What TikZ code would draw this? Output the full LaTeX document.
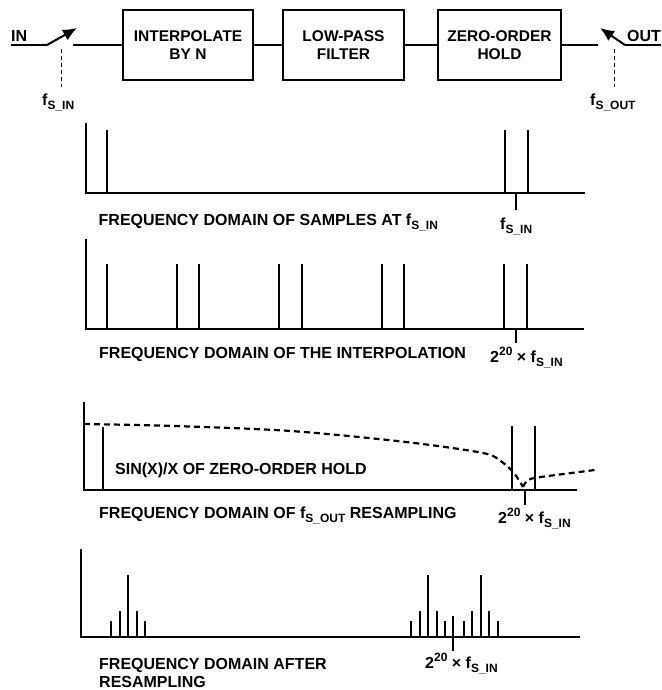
\documentclass[tikz,border=0pt]{standalone}
\usepackage{fontspec}
\setmainfont{Liberation Sans}
\usetikzlibrary{arrows.meta}
\newcommand\fsx[1]{f\raisebox{-4pt}{\fontsize{12}{13}\selectfont #1}}
\newcommand\twoexp{2\raisebox{6.5pt}{\fontsize{12}{13}\selectfont 20} × }
\begin{document}
\begin{tikzpicture}[x=1pt,y=-1pt,
  txt/.style={font=\fontsize{15.5}{18}\selectfont\bfseries},
  lbl/.style={font=\fontsize{16}{18}\selectfont\bfseries, inner sep=0pt, anchor=base west},
  blk/.style={draw, line width=2pt, txt, align=center, minimum height=70pt, inner sep=0pt},
  wire/.style={line width=2pt},
  swarrow/.style={line width=2pt, -{Latex[length=14pt,width=12pt]}},
  clk/.style={dashed, dash pattern=on 4pt off 3pt, line width=1pt},
  axisline/.style={line width=2pt},
  spike/.style={line width=2pt},
  sinc/.style={line width=2.2pt, dash pattern=on 6pt off 4pt}
]
\useasboundingbox (0,0) rectangle (661,690);

% ---------- top block diagram ----------
\node[blk, minimum width=130pt] (interp) at (188,45) {INTERPOLATE\\BY N};
\node[blk, minimum width=121pt] (lpf) at (343.5,45) {LOW-PASS\\FILTER};
\node[blk, minimum width=123pt] (zoh) at (499.5,45) {ZERO-ORDER\\HOLD};

\node[lbl] (inlbl) at (11,42) {IN};
\node[lbl] (outlbl) at (627,42) {OUT};

\coordinate (inA) at (11,45);
\coordinate (inP) at (47,45);
\coordinate (inT) at (77,28);
\coordinate (inR) at (73,45);
\coordinate (outR) at (598,45);
\coordinate (outP) at (625,45);
\coordinate (outT) at (600,28);
\coordinate (outB) at (661,45);

\draw[wire] (inA) -- (inP);
\draw[swarrow] (inP) -- (inT);
\draw[wire] (inR) -- (interp.west);
\draw[wire] (interp.east) -- (lpf.west);
\draw[wire] (lpf.east) -- (zoh.west);
\draw[wire] (zoh.east) -- (outR);
\draw[wire] (outB) -- (outP);
\draw[swarrow] (outP) -- (outT);

\coordinate (ckinA) at (61,49);
\coordinate (ckinB) at (61,87);
\coordinate (ckoutA) at (614,49);
\coordinate (ckoutB) at (614,87);
\draw[clk] (ckinA) -- (ckinB);
\draw[clk] (ckoutA) -- (ckoutB);
\node[lbl] (fsin) at (42,106) {\fsx{S\_IN}};
\node[lbl] (fsout) at (590,106) {\fsx{S\_OUT}};

% ---------- panel 1 ----------
\draw[axisline] (86,123) -- (86,193) -- (585,193);
\foreach \x in {107,505,528} \draw[spike] (\x,193) -- (\x,130);
\draw[spike] (516,193) -- (516,210);
\node[lbl] (cap1) at (98.5,225) {FREQUENCY DOMAIN OF SAMPLES AT \fsx{S\_IN}};
\node[lbl] (t1) at (500,229) {\fsx{S\_IN}};

% ---------- panel 2 ----------
\draw[axisline] (86,239) -- (86,329) -- (584,329);
\foreach \x in {107,177,199,279,302,382,404,504,527} \draw[spike] (\x,329) -- (\x,264);
\draw[spike] (516,329) -- (516,343);
\node[lbl] (cap2) at (99,358) {FREQUENCY DOMAIN OF THE INTERPOLATION};
\node[lbl] (t2) at (490,362) {\twoexp\fsx{S\_IN}};

% ---------- panel 3 ----------
\draw[axisline] (84,402) -- (84,490) -- (577,490);
\draw[spike] (103,490) -- (103,427);
\foreach \x in {512,535} \draw[spike] (\x,490) -- (\x,426);
\draw[spike] (525,490) -- (525,505);
\draw[sinc] plot[smooth] coordinates {(84,424) (175,426) (291,431) (406,442) (483,453) (502,462) (514,473) (523,487)}
            plot[smooth] coordinates {(523,487) (528,480) (541,477) (595,470)};
\node[lbl] (sinx) at (115,474) {SIN(X)/X OF ZERO-ORDER HOLD};
\node[lbl] (cap3) at (99,518) {FREQUENCY DOMAIN OF \fsx{S\_OUT} RESAMPLING};
\node[lbl] (t3) at (498,523) {\twoexp\fsx{S\_IN}};

% ---------- panel 4 ----------
\draw[axisline] (81,549) -- (81,637) -- (580,637);
\foreach \x/\h in {111/621,120/611,128/575,137/611,145/621,
                   411/621,420/611,428/575,437/611,445/621,453/616,
                   464/621,472/611,481/575,489/611,498/621}
  \draw[spike] (\x,637) -- (\x,\h);
\draw[spike] (453,637) -- (453,651);
\node[lbl] (cap4a) at (99,669) {FREQUENCY DOMAIN AFTER};
\node[lbl] (cap4b) at (99,687) {RESAMPLING};
\node[lbl] (t4) at (425,668) {\twoexp\fsx{S\_IN}};
\end{tikzpicture}
\end{document}
